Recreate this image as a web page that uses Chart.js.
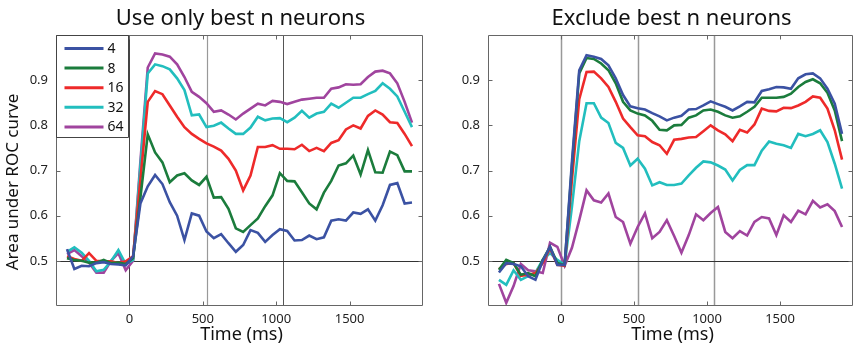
<!DOCTYPE html>
<html><head><meta charset="utf-8">
<script src="https://cdn.jsdelivr.net/npm/chart.js@4.4.1/dist/chart.umd.min.js"></script>
<style>
html,body{margin:0;padding:0;background:#fff;}
#wrap{position:relative;width:860px;height:351px;overflow:hidden;}
canvas{position:absolute;top:0;}
#c1{left:0;}
#c2{left:430px;}
</style></head><body>
<div id="wrap"><canvas id="c1" width="430" height="351"></canvas><canvas id="c2" width="430" height="351"></canvas></div>
<script>
// ---------------- data ----------------
const timeMs = [-425,-375,-325,-275,-225,-175,-125,-75,-25,25,75,125,175,225,275,325,375,425,475,525,575,625,675,725,775,825,875,925,975,1025,1075,1125,1175,1225,1275,1325,1375,1425,1475,1525,1575,1625,1675,1725,1775,1825,1875,1925];
const nLabels = ['4','8','16','32','64'];
const panelTitles = ['Use only best n neurons','Exclude best n neurons'];
const xTitle = 'Time (ms)';
const yTitle = 'Area under ROC curve';
const xTicks = [0,500,1000,1500];
const yTicks = [0.5,0.6,0.7,0.8,0.9];
const eventLines = [0,530,1045];
const baseline = 0.5;

// Use only best n neurons
const only4  = [0.526,0.482,0.489,0.488,0.495,0.497,0.493,0.492,0.490,0.510,0.627,0.665,0.690,0.670,0.630,0.600,0.546,0.605,0.600,0.565,0.550,0.559,0.539,0.520,0.535,0.568,0.562,0.542,0.557,0.570,0.566,0.545,0.546,0.556,0.548,0.552,0.589,0.592,0.589,0.607,0.604,0.614,0.589,0.623,0.668,0.672,0.627,0.629];
const only8  = [0.506,0.502,0.500,0.496,0.496,0.502,0.495,0.496,0.493,0.506,0.640,0.780,0.740,0.718,0.674,0.689,0.694,0.678,0.668,0.686,0.640,0.641,0.615,0.572,0.564,0.579,0.594,0.621,0.645,0.694,0.677,0.676,0.652,0.627,0.614,0.651,0.677,0.711,0.716,0.733,0.691,0.745,0.696,0.695,0.742,0.734,0.698,0.698];
const only16 = [0.510,0.504,0.500,0.517,0.500,0.499,0.499,0.495,0.499,0.510,0.680,0.852,0.876,0.869,0.844,0.819,0.796,0.781,0.770,0.760,0.753,0.744,0.726,0.700,0.656,0.689,0.752,0.752,0.756,0.748,0.748,0.747,0.757,0.743,0.750,0.743,0.761,0.767,0.791,0.800,0.793,0.821,0.833,0.824,0.807,0.805,0.781,0.754];
const only32 = [0.520,0.530,0.518,0.500,0.477,0.480,0.499,0.524,0.493,0.502,0.710,0.915,0.935,0.931,0.924,0.904,0.878,0.822,0.824,0.796,0.799,0.806,0.793,0.781,0.781,0.795,0.819,0.811,0.815,0.816,0.807,0.817,0.832,0.817,0.826,0.830,0.848,0.839,0.850,0.861,0.861,0.869,0.876,0.893,0.881,0.864,0.830,0.796];
const only64 = [0.515,0.524,0.510,0.496,0.474,0.474,0.500,0.517,0.479,0.500,0.720,0.928,0.959,0.957,0.952,0.935,0.907,0.874,0.863,0.849,0.830,0.833,0.824,0.813,0.826,0.837,0.848,0.844,0.854,0.852,0.847,0.852,0.857,0.859,0.861,0.861,0.881,0.884,0.891,0.890,0.891,0.907,0.919,0.921,0.915,0.893,0.852,0.806];

// Exclude best n neurons
const excl4  = [0.474,0.495,0.493,0.488,0.466,0.458,0.500,0.531,0.491,0.491,0.720,0.922,0.955,0.952,0.947,0.933,0.904,0.867,0.842,0.838,0.835,0.827,0.820,0.811,0.817,0.821,0.835,0.836,0.844,0.853,0.847,0.841,0.833,0.842,0.852,0.851,0.876,0.880,0.885,0.884,0.881,0.904,0.913,0.915,0.904,0.881,0.848,0.781];
const excl8  = [0.480,0.502,0.495,0.469,0.473,0.466,0.502,0.531,0.495,0.491,0.710,0.915,0.949,0.947,0.937,0.922,0.893,0.852,0.833,0.826,0.822,0.810,0.790,0.789,0.800,0.801,0.817,0.822,0.833,0.835,0.830,0.822,0.817,0.820,0.830,0.841,0.861,0.861,0.861,0.863,0.870,0.885,0.896,0.902,0.893,0.872,0.833,0.765];
const excl16 = [0.482,0.493,0.495,0.467,0.469,0.473,0.495,0.528,0.491,0.489,0.680,0.858,0.918,0.919,0.904,0.885,0.852,0.815,0.796,0.778,0.776,0.763,0.756,0.737,0.768,0.770,0.773,0.774,0.787,0.800,0.789,0.780,0.765,0.790,0.784,0.802,0.837,0.832,0.831,0.839,0.838,0.844,0.852,0.864,0.861,0.837,0.789,0.724];
const excl32 = [0.458,0.447,0.479,0.458,0.466,0.474,0.502,0.517,0.502,0.491,0.620,0.765,0.849,0.849,0.817,0.805,0.761,0.750,0.711,0.726,0.704,0.667,0.674,0.668,0.668,0.671,0.689,0.706,0.720,0.718,0.711,0.702,0.678,0.701,0.712,0.712,0.744,0.764,0.759,0.756,0.750,0.781,0.776,0.781,0.789,0.763,0.715,0.660];
const excl64 = [0.449,0.407,0.444,0.493,0.479,0.477,0.473,0.540,0.531,0.489,0.529,0.590,0.656,0.634,0.629,0.649,0.597,0.586,0.538,0.575,0.605,0.550,0.564,0.590,0.555,0.518,0.557,0.603,0.590,0.606,0.619,0.564,0.550,0.566,0.556,0.586,0.597,0.594,0.557,0.601,0.586,0.611,0.603,0.633,0.618,0.625,0.610,0.575];

// ---------------- styles ----------------
const colors = ['#3b52a3','#1b7c3c','#ee2a2a','#22bebe','#a0449e'];
const FONT = "'Noto Sans', 'Open Sans', sans-serif";

function makeDatasets(list){
  return list.map((vals,i)=>({
    label: nLabels[i],
    data: timeMs.map((t,k)=>({x:t,y:vals[k]})),
    borderColor: colors[i],
    borderWidth: 2.6,
    pointRadius: 0,
    fill: false,
    tension: 0,
    borderJoinStyle: 'miter'
  }));
}

function line(ctx,x1,y1,x2,y2){ctx.beginPath();ctx.moveTo(x1,y1);ctx.lineTo(x2,y2);ctx.stroke();}

function panelPlugin(cfg){
  return {
    id:'panelDecor',
    beforeDatasetsDraw(chart){
      const {ctx, chartArea:a, scales:{x,y}} = chart;
      ctx.save();
      eventLines.forEach((t,i)=>{
        const px = Math.round(x.getPixelForValue(t))+0.5;
        ctx.strokeStyle = cfg.vColors[i];
        ctx.lineWidth = cfg.vWidths[i];
        line(ctx,px,a.top,px,a.bottom);
      });
      ctx.lineWidth = 1;
      ctx.strokeStyle = '#333';
      const py = Math.round(y.getPixelForValue(baseline))+0.5;
      line(ctx,a.left,py,a.right,py);
      ctx.restore();
    },
    afterDatasetsDraw(chart){
      const {ctx, chartArea:a, scales:{x,y}} = chart;
      ctx.save();
      ctx.strokeStyle = '#666';
      ctx.lineWidth = 1;
      const L=Math.round(a.left)+0.5, R=Math.round(a.right)-0.5, T=Math.round(a.top)+0.5, B=Math.round(a.bottom)-0.5;
      line(ctx,L,T,R,T); line(ctx,R,T,R,B); line(ctx,R,B,L,B); line(ctx,L,B,L,T);
      const tl = 4;
      xTicks.forEach(v=>{
        const px = Math.round(x.getPixelForValue(v))+0.5;
        line(ctx,px,B,px,B-tl); line(ctx,px,T,px,T+tl);
      });
      yTicks.forEach(v=>{
        const py = Math.round(y.getPixelForValue(v))+0.5;
        line(ctx,L,py,L+tl,py); line(ctx,R,py,R-tl,py);
      });
      if(cfg.legend){
        const bx=L, by=T, bw=72, bh=102;
        ctx.fillStyle='#fff';
        ctx.fillRect(bx+0.5,by+0.5,bw-1,bh-1);
        ctx.strokeStyle='#444';
        line(ctx,bx+bw,by,bx+bw,by+bh);
        line(ctx,bx,by+bh,bx+bw,by+bh);
        line(ctx,bx,by,bx+bw,by);
        line(ctx,bx,by,bx,by+bh);
        ctx.font = '14px '+FONT;
        ctx.textBaseline='middle';
        ctx.textAlign='left';
        chart.data.datasets.forEach((ds,i)=>{
          const ry = by + 13 + i*19.6;
          ctx.strokeStyle = ds.borderColor;
          ctx.lineWidth = 3;
          line(ctx,bx+8,ry,bx+47,ry);
          ctx.fillStyle='#111';
          ctx.fillText(ds.label,bx+51,ry+0.5);
        });
      }
      ctx.restore();
    },
    afterDraw(chart){
      const {ctx, chartArea:a} = chart;
      ctx.save();
      ctx.fillStyle='#111';
      ctx.textAlign='center';
      ctx.textBaseline='alphabetic';
      ctx.font = '22px '+FONT;
      ctx.fillText(cfg.title,(a.left+a.right)/2+1,25);
      ctx.font = '18px '+FONT;
      ctx.fillText(xTitle,(a.left+a.right)/2+2,340);
      if(cfg.yTitle){
        ctx.font = '17px '+FONT;
        ctx.translate(18,182);
        ctx.rotate(-Math.PI/2);
        ctx.fillText(yTitle,0,0);
      }
      ctx.restore();
    }
  };
}

function makeChart(id, seriesList, cfg){
  return new Chart(document.getElementById(id),{
    type:'line',
    data:{datasets: makeDatasets(seriesList)},
    options:{
      responsive:false,
      animation:false,
      devicePixelRatio:1,
      layout:{padding:{left:0,right:7,top:35,bottom:0}},
      plugins:{legend:{display:false},tooltip:{enabled:false},title:{display:false}},
      scales:{
        x:{type:'linear',min:-500,max:2000,
          grid:{display:false,drawTicks:false},border:{display:false},
          afterBuildTicks:s=>{s.ticks = xTicks.map(v=>({value:v}));},
          afterFit:s=>{s.height=45;},
          ticks:{autoSkip:false,maxRotation:0,padding:5,color:'#222',font:{family:FONT,size:13},callback:v=>String(v)}
        },
        y:{type:'linear',min:0.4,max:1.0,
          grid:{display:false,drawTicks:false},border:{display:false},
          afterBuildTicks:s=>{s.ticks = yTicks.map(v=>({value:v}));},
          afterFit:s=>{s.width=cfg.yWidth;},
          ticks:{autoSkip:false,padding:8,color:'#222',font:{family:FONT,size:13},callback:v=>v.toFixed(1)}
        }
      }
    },
    plugins:[panelPlugin(cfg)]
  });
}

makeChart('c1',[only4,only8,only16,only32,only64],{
  title:panelTitles[0], legend:true, yTitle:true, yWidth:56,
  vColors:['#444','#999','#555'], vWidths:[1,1.2,1]
});
makeChart('c2',[excl4,excl8,excl16,excl32,excl64],{
  title:panelTitles[1], legend:false, yTitle:false, yWidth:58,
  vColors:['#999','#999','#999'], vWidths:[1.5,1.5,1.5]
});
</script>
</body></html>
